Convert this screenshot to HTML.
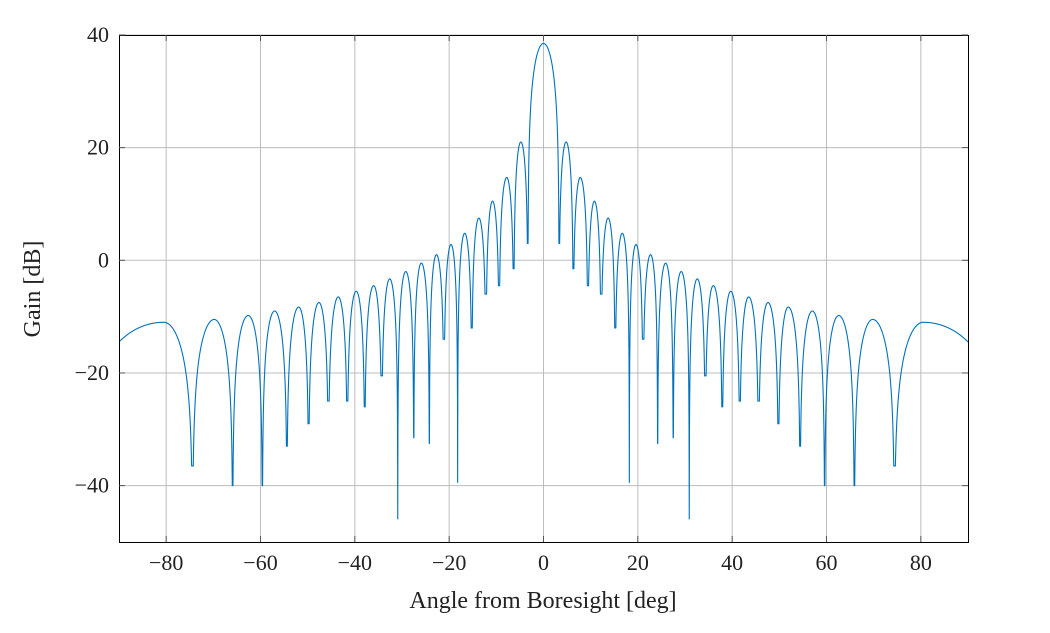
<!DOCTYPE html>
<html><head><meta charset="utf-8"><style>
body{margin:0;background:#fff;}
svg text{font-family:"Liberation Serif",serif;font-size:22px;fill:#222;}
</style></head><body>
<svg id="s" width="1050" height="628" xmlns="http://www.w3.org/2000/svg">
<g id="grid" stroke="#bdbdbd" stroke-width="1"></g>
<path id="curve" fill="none" stroke="#0072BD" stroke-width="1.1"></path>
<rect x="119.5" y="35.5" width="849" height="507" fill="none" stroke="#000" stroke-width="1"/>
<g id="ticks" stroke="#555" stroke-width="1"></g>
<g id="labels"></g>
<text x="543" y="608" text-anchor="middle" style="font-size:24px">Angle from Boresight [deg]</text>
<text transform="translate(40,289) rotate(-90)" text-anchor="middle" style="font-size:24px">Gain [dB]</text>
</svg>
<script>
const X=d=>543.5+d*849/180, Y=g=>260.3-g*507/90;
const ns="http://www.w3.org/2000/svg";
function el(p,t,a,txt){const e=document.createElementNS(ns,t);for(const k in a)e.setAttribute(k,a[k]);if(txt!==undefined)e.textContent=txt;p.appendChild(e);}
const grid=document.getElementById('grid'),ticks=document.getElementById('ticks'),labels=document.getElementById('labels');
for(let d=-80;d<=80;d+=20){const x=X(d);el(grid,'line',{x1:x,x2:x,y1:35,y2:542});
el(ticks,'line',{x1:x,x2:x,y1:35,y2:41});el(ticks,'line',{x1:x,x2:x,y1:536,y2:542});
el(labels,'text',{x:x,y:570,'text-anchor':'middle'},(d<0?'\u2212':'')+Math.abs(d));}
for(let g=-40;g<=40;g+=20){const y=Y(g);el(grid,'line',{x1:119,x2:968,y1:y,y2:y});
el(ticks,'line',{x1:119,x2:125,y1:y,y2:y});el(ticks,'line',{x1:962,x2:968,y1:y,y2:y});
el(labels,'text',{x:109,y:y+7,'text-anchor':'end'},(g<0?'\u2212':'')+Math.abs(g));}
const nulls=[3.3,6.3,9.4,12.2,15.2,18.2,21.1,24.2,27.5,30.9,34.3,37.9,41.6,45.6,49.8,54.4,59.6,65.9,74.4];
const nv=[3,-1.5,-4.5,-6,-12,-39.5,-14,-32.5,-31.5,-46,-20.5,-26,-25,-25,-29,-33,-40,-40,-36.5];
const pk=[[4.8,21],[7.8,14.7],[10.8,10.5],[13.7,7.5],[16.7,4.8],[19.6,2.8],[22.7,1],[25.9,-0.5],[29.2,-2],[32.6,-3.3],[36,-4.5],[39.7,-5.5],[43.5,-6.5],[47.6,-7.5],[51.9,-8.3],[57,-9],[62.6,-9.8],[69.8,-10.5]];
const lobes=[[-3.3,0,3.3,38.5,3,3]];
for(let i=0;i<pk.length;i++)lobes.push([nulls[i],pk[i][0],nulls[i+1],pk[i][1],nv[i],nv[i+1]]);
lobes.push([74.4,80.5,98.3,-11,-36.5,-60]);
function G(d){d=Math.abs(d);
for(const L of lobes){const[a,p,b,pv,n1,n2]=L;if(d>=Math.max(a,0)&&d<=b){
let ph=d<=p?(d-a)/(p-a)*Math.PI/2:Math.PI/2+(d-p)/(b-p)*Math.PI/2;
let g=pv+20*Math.log10(Math.max(Math.abs(Math.sin(ph)),1e-6));
const fl=d<=p?n1:n2;return Math.max(g,fl);}}
return -14.5;}
let pts=[];
let ds=[];for(let d=-90;d<=90.0001;d+=0.02)ds.push(+d.toFixed(3));
nulls.forEach(n=>{ds.push(n,-n)});ds.sort((a,b)=>a-b);
for(const d of ds)pts.push(X(d).toFixed(2)+','+Y(G(d)).toFixed(2));
document.getElementById('curve').setAttribute('d','M'+pts.join('L'));
</script>
</body></html>
